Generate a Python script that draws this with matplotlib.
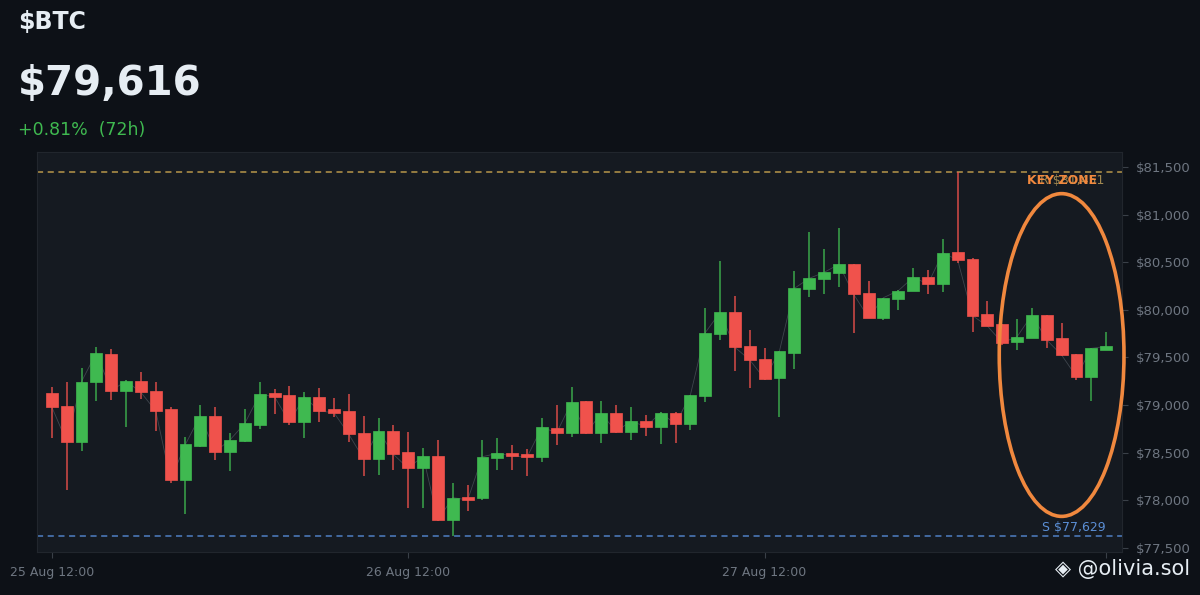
import numpy as np
import matplotlib.pyplot as plt
from matplotlib.patches import Ellipse, Rectangle

# Hourly candles, 25 Aug 12:00 -> 28 Aug 11:00
opens = [79127, 78994, 78616, 79239, 79533, 79148, 79253, 79148, 78956, 78214,
         78574, 78889, 78511, 78623, 78791, 79124, 79106, 78819, 79088, 78956,
         78938, 78704, 78434, 78731, 78504, 78336, 78466, 77794, 78038, 78024,
         78448, 78493, 78486, 78452, 78763, 78710, 79043, 78710, 78914, 78721,
         78833, 78773, 78920, 78801, 79095, 79746, 79974, 79624, 79484, 79281,
         79550, 80216, 80321, 80384, 80478, 80174, 79911, 80111, 80198, 80342,
         80272, 80604, 80534, 79957, 79848, 79659, 79701, 79946, 79701, 79537,
         79298, 79580]
highs = [79190, 79246, 79386, 79613, 79586, 79260, 79351, 79246, 78984, 78662,
         79001, 78977, 78704, 78959, 79246, 79169, 79204, 79134, 79176, 79071,
         79113, 78886, 78868, 78791, 78714, 78546, 78634, 78179, 78161, 78634,
         78651, 78581, 78536, 78868, 79001, 79187, 79046, 79046, 79001, 78984,
         78896, 78925, 78925, 79110, 80016, 80516, 80146, 79789, 79596, 79570,
         80411, 80814, 80636, 80863, 80480, 80306, 80130, 80205, 80443, 80419,
         80741, 81451, 80540, 80093, 79850, 79904, 80016, 79950, 79859, 79540,
         79600, 79764]
lows = [78655, 78108, 78521, 79046, 79053, 78773, 79061, 78731, 78179, 77857,
        78560, 78424, 78311, 78610, 78750, 78903, 78791, 78658, 78826, 78878,
        78616, 78256, 78266, 78318, 77923, 77923, 77787, 77629, 77888, 78003,
        78318, 78318, 78256, 78406, 78581, 78662, 78700, 78599, 78710, 78634,
        78676, 78588, 78605, 78738, 79036, 79684, 79361, 79183, 79260, 78878,
        79376, 80132, 80167, 80243, 79754, 79915, 79894, 79998, 80195, 80167,
        80191, 80489, 79764, 79828, 79631, 79579, 79700, 79596, 79520, 79264,
        79046, 79575]
closes = [78980, 78616, 79246, 79550, 79151, 79253, 79134, 78938, 78214, 78588,
          78889, 78511, 78634, 78809, 79113, 79088, 78819, 79088, 78938, 78920,
          78693, 78434, 78731, 78483, 78336, 78466, 77794, 78028, 78004, 78458,
          78493, 78466, 78452, 78767, 78710, 79029, 78710, 78914, 78721, 78833,
          78773, 78920, 78801, 79106, 79760, 79974, 79607, 79474, 79274, 79568,
          80226, 80331, 80394, 80478, 80163, 79918, 80128, 80201, 80342, 80272,
          80600, 80524, 79939, 79831, 79655, 79718, 79946, 79684, 79526, 79298,
          79596, 79616]

resistance = 81451
support = 77629
xtick_pos = [0, 24, 48]
xtick_labels = ["25 Aug 12:00", "26 Aug 12:00", "27 Aug 12:00"]
ytick_vals = [77500, 78000, 78500, 79000, 79500, 80000, 80500, 81000, 81500]

BG = "#0d1117"
PANEL = "#151a21"
GREEN = "#3fb950"
RED = "#f0524c"
GREY = "#6e7681"
ORANGE = "#f0883e"

fig = plt.figure(figsize=(12, 5.95), dpi=100, facecolor=BG)
ax = fig.add_axes([0.0308, 0.0723, 0.904, 0.672], facecolor=PANEL)

x = np.arange(len(closes))
ax.plot(x, closes, color="#8b949e", lw=0.6, alpha=0.35, zorder=1)
for i in x:
    o, h, l, c = opens[i], highs[i], lows[i], closes[i]
    col = GREEN if c >= o else RED
    ax.vlines(i, l, h, color=col, lw=1.3, alpha=0.75, zorder=2)
    bottom = min(o, c)
    height = max(abs(c - o), 25)
    ax.add_patch(Rectangle((i - 0.4, bottom), 0.8, height, facecolor=col,
                           edgecolor=col, lw=0.5, zorder=3))

ax.axhline(resistance, color="#b8964a", ls="--", lw=1.1, dashes=(4, 3), zorder=1)
ax.axhline(support, color="#4f7fc4", ls="--", lw=1.1, dashes=(4, 3), zorder=1)
ax.text(70.9, resistance - 25, "R $81,451", color="#a08850", fontsize=9,
        ha="right", va="top", zorder=4)
ax.text(68.0, resistance - 20, "KEY ZONE", color=ORANGE, fontsize=9,
        fontweight="bold", ha="center", va="top", zorder=5)
ax.text(70.95, support + 15, "S $77,629", color="#5b8fd6", fontsize=9,
        ha="right", va="bottom", zorder=4)

ax.add_patch(Ellipse((68.0, 79526), 8.4, 3390, fill=False, edgecolor=ORANGE,
                     lw=2.6, zorder=6, clip_on=False))

ax.set_xlim(-1.0, 72.05)
ax.set_ylim(77457, 81657)
ax.yaxis.tick_right()
ax.set_yticks(ytick_vals)
ax.set_yticklabels(["${:,}".format(v) for v in ytick_vals])
ax.set_xticks(xtick_pos + [71])
ax.set_xticklabels(xtick_labels + [""])
ax.tick_params(axis="both", colors="#3a4048", labelcolor=GREY, labelsize=9.5,
               length=4)
ax.tick_params(axis="y", pad=6)
ax.tick_params(axis="x", labelsize=9, pad=6)
for s in ax.spines.values():
    s.set_color("#21262d")
    s.set_linewidth(0.8)

fig.text(0.015, 0.963, "$BTC", color="#e6edf3", fontsize=17, fontweight="bold",
         va="center")
fig.text(0.015, 0.858, "$79,616", color="#e6edf3", fontsize=29,
         fontweight="bold", va="center")
fig.text(0.015, 0.782, "+0.81%  (72h)", color=GREEN, fontsize=12.5, va="center")
fig.text(0.992, 0.043, "\u25c8 @olivia.sol", color="#e6edf3", fontsize=15,
         ha="right", va="center")

fig.savefig("out.png", dpi=100, facecolor=BG)
